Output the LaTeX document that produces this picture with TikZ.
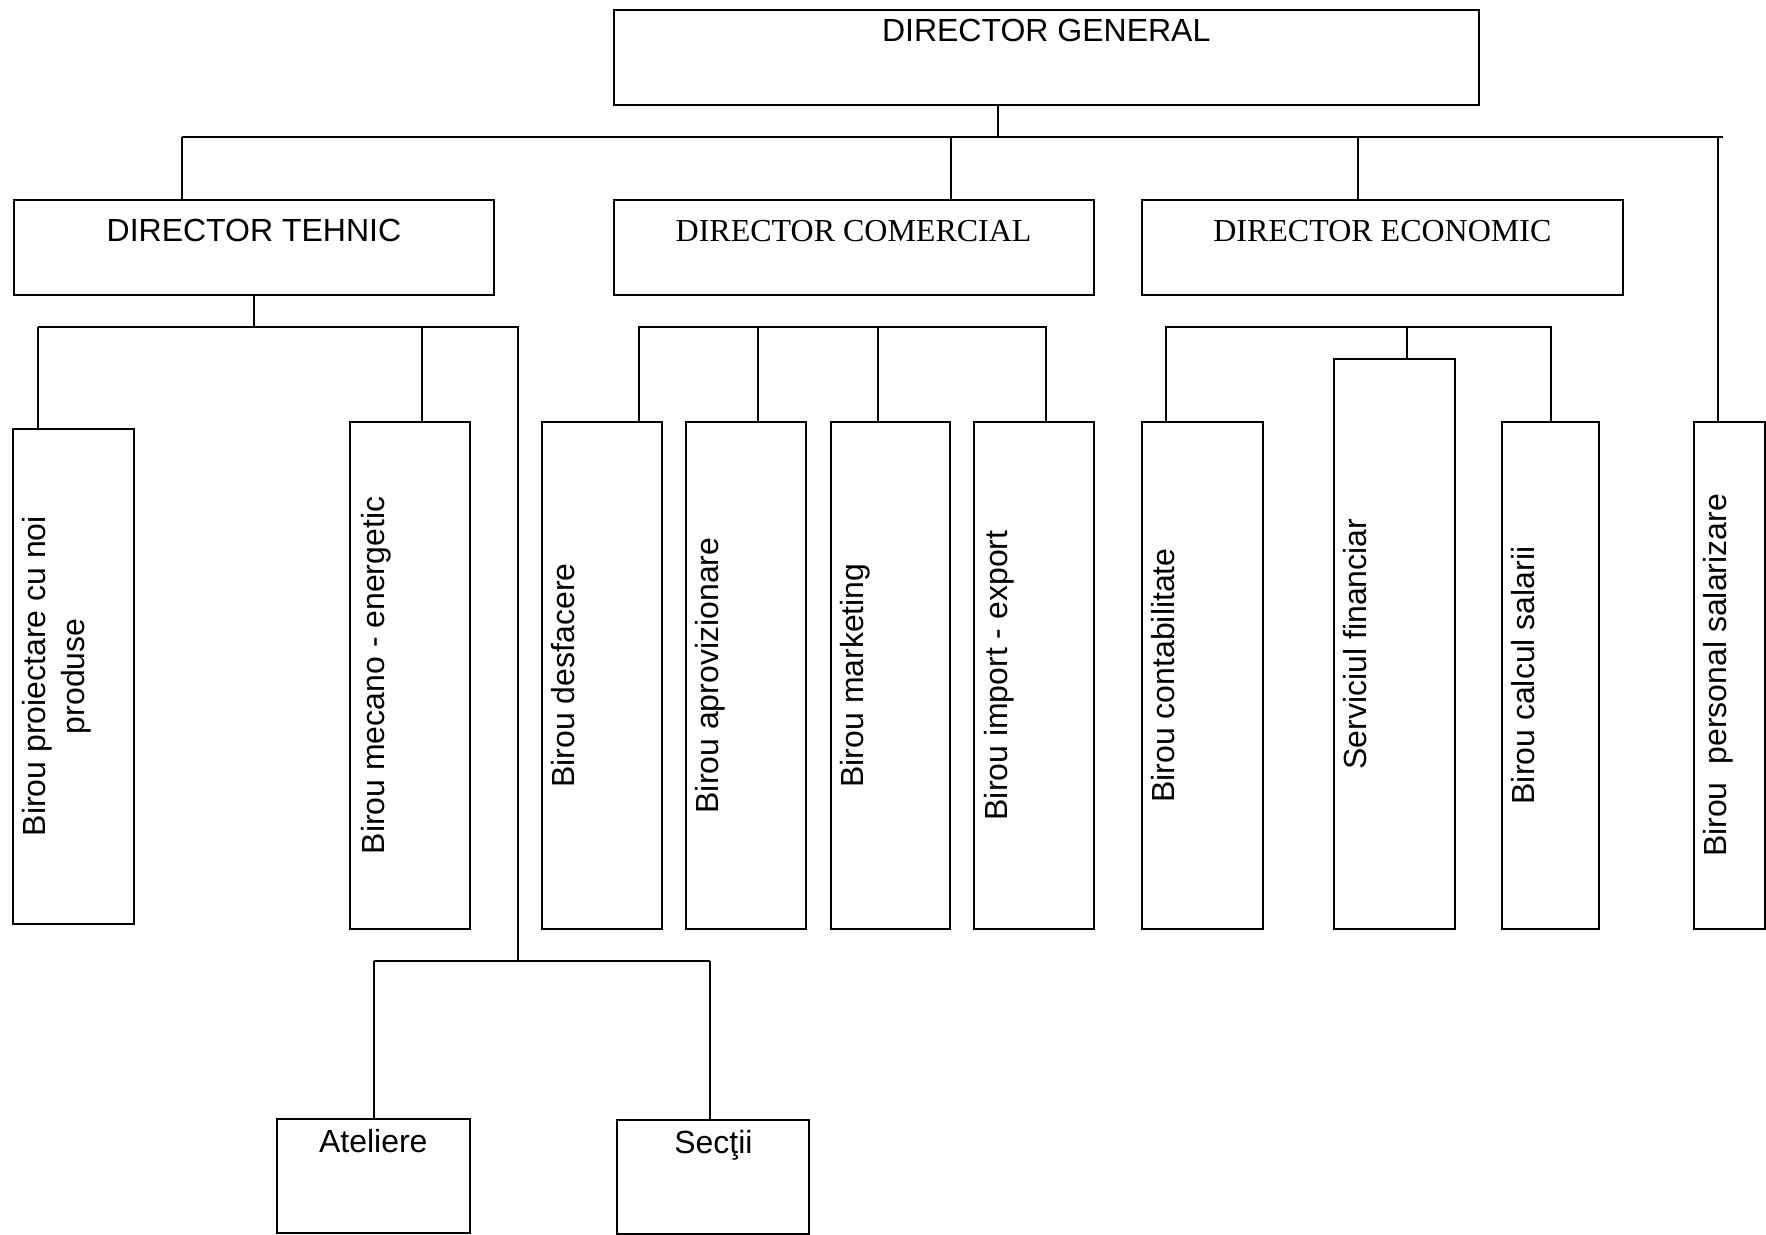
\documentclass[tikz,border=0pt]{standalone}
\usepackage{fontspec}
\setmainfont{Liberation Sans}
\newfontfamily\timesfam{Liberation Serif}
\usetikzlibrary{fit,calc}
\begin{document}
\begin{tikzpicture}[x=0.5pt,y=-0.5pt,line width=1pt,
  orgbox/.style={draw, inner sep=0pt, outer sep=0pt},
  toptext/.style={anchor=north, inner sep=0pt, font=\fontsize{16}{19.5}\selectfont},
  toptextserif/.style={toptext, font=\timesfam\fontsize{16}{19.5}\selectfont},
  sidetext/.style={rotate=90, anchor=north, inner sep=0pt, align=center,
    font=\fontsize{16}{19.5}\selectfont},
  link/.style={draw, line width=1pt}]
\fill[white] (0,0) rectangle (1766,1235);
\useasboundingbox (0,0) rectangle (1766,1235);

% --- boxes (pixel grid, y downwards) ---
\node[orgbox, fit={(613.8,10) (1478.6,105)}] (dg) {};
\node[orgbox, fit={(13.5,200) (494.4,295.3)}] (dt) {};
\node[orgbox, fit={(613.7,200) (1093.5,295.3)}] (dc) {};
\node[orgbox, fit={(1142,200) (1622.7,295.3)}] (de) {};

\node[orgbox, fit={(13.2,429) (133.8,923.5)}] (bp) {};
\node[orgbox, fit={(350,422) (470,929)}] (bm) {};
\node[orgbox, fit={(542,422) (662,929)}] (bd) {};
\node[orgbox, fit={(686,422) (806,929)}] (ba) {};
\node[orgbox, fit={(830.6,422) (950,929)}] (bk) {};
\node[orgbox, fit={(974.4,422) (1094,929)}] (bi) {};
\node[orgbox, fit={(1141.6,422) (1262.5,929)}] (bc) {};
\node[orgbox, fit={(1334,359) (1454.6,929)}] (sf) {};
\node[orgbox, fit={(1502,422) (1598.6,929)}] (bs) {};
\node[orgbox, fit={(1694,422) (1765,929)}] (bps) {};

\node[orgbox, fit={(277,1119.3) (469.6,1232.7)}] (at) {};
\node[orgbox, fit={(617.4,1120.3) (809.4,1233.7)}] (se) {};

% --- box titles ---
\node[toptext] (dg-t) at ($(dg.north)+(0,8.3)$) {DIRECTOR GENERAL};
\node[toptext] (dt-t) at ($(dt.north)+(0,18.3)$) {DIRECTOR TEHNIC};
\node[toptextserif] (dc-t) at ($(dc.north)+(0,19)$) {DIRECTOR COMERCIAL};
\node[toptextserif] (de-t) at ($(de.north)+(0,19)$) {DIRECTOR ECONOMIC};
\node[toptext] (at-t) at ($(at.north)+(0,8.7)$) {Ateliere};
\node[toptext] (se-t) at ($(se.north)+(0,8.7)$) {Secţii};

\node[sidetext] (bp-t) at ($(bp.west)+(8.6,0)$) {Birou proiectare cu noi\\produse};
\node[sidetext] (bm-t) at ($(bm.west)+(10,0)$) {Birou mecano - energetic};
\node[sidetext] (bd-t) at ($(bd.west)+(8.6,0)$) {Birou desfacere};
\node[sidetext] (ba-t) at ($(ba.west)+(8.6,0)$) {Birou aprovizionare};
\node[sidetext] (bk-t) at ($(bk.west)+(8.6,0)$) {Birou marketing};
\node[sidetext] (bi-t) at ($(bi.west)+(8.6,0)$) {Birou import - export};
\node[sidetext] (bc-t) at ($(bc.west)+(8.6,0)$) {Birou contabilitate};
\node[sidetext] (sf-t) at ($(sf.west)+(8.6,0)$) {Serviciul financiar};
\node[sidetext] (bs-t) at ($(bs.west)+(8.6,0)$) {Birou calcul salarii};
\node[sidetext] (bps-t) at ($(bps.west)+(8.6,0)$) {Birou\ \ personal salarizare};

% --- junction points ---
\coordinate (j0) at (997.7,137.5);
\coordinate (busL) at (182.4,137.5);
\coordinate (busR) at (1722.5,137.5);
\coordinate (jC) at (950.5,136);
\coordinate (jE) at (1358,136);
\coordinate (jP) at (1718.3,136);

\coordinate (tL) at (37.9,326.7);
\coordinate (tM) at (254,326.7);
\coordinate (tB) at (422,326.7);
\coordinate (tR) at (517.8,326.7);
\coordinate (tD) at (517.8,961);
\coordinate (uL) at (373.7,961);
\coordinate (uR) at (710.3,961);

\coordinate (cL) at (638.5,326.7);
\coordinate (c2) at (758,326.7);
\coordinate (c3) at (878,326.7);
\coordinate (cR) at (1046,326.7);

\coordinate (eL) at (1166.4,326.7);
\coordinate (eM) at (1406.6,326.7);
\coordinate (eR) at (1550.7,326.7);

% --- general director level ---
\path[link] (j0 |- dg.south) -- (j0);
\path[link] (busL) -- (busR);
\path[link] (busL) -- (busL |- dt.north);
\path[link] (jC) -- (jC |- dc.north);
\path[link] (jE) -- (jE |- de.north);
\path[link] (jP) -- (jP |- bps.north);

% --- technical branch ---
\path[link] (tM |- dt.south) -- (tM);
\path[link] (tL) -- (tR) -- (tD);
\path[link] (tL) -- (tL |- bp.north);
\path[link] (tB) -- (tB |- bm.north);
\path[link] (uL) -- (uR);
\path[link] (uL) -- (uL |- at.north);
\path[link] (uR) -- (uR |- se.north);

% --- commercial branch ---
\path[link] (cL |- bd.north) -- (cL) -- (cR) -- (cR |- bi.north);
\path[link] (c2) -- (c2 |- ba.north);
\path[link] (c3) -- (c3 |- bk.north);

% --- economic branch ---
\path[link] (eL |- bc.north) -- (eL) -- (eR) -- (eR |- bs.north);
\path[link] (eM) -- (eM |- sf.north);
\end{tikzpicture}
\end{document}
